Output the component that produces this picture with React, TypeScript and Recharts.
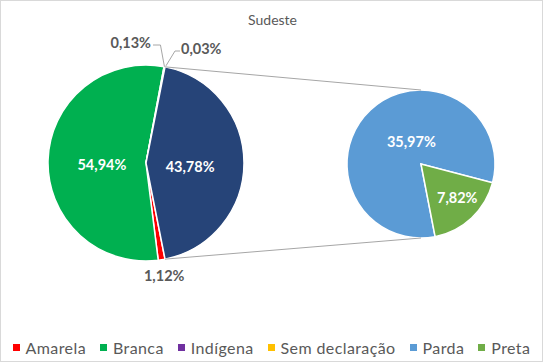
import React from 'react';
import { PieChart, Pie, Cell, Legend } from 'recharts';

const mainCategories = ['Amarela', 'Branca', 'Indígena', 'Sem declaração', 'Parda + Preta'];
const mainValues = [1.12, 54.94, 0.13, 0.03, 43.78];
const mainLabels = ['1,12%', '54,94%', '0,13%', '0,03%', '43,78%'];
const mainColors = ['#ff0000', '#00b050', '#7030a0', '#ffc000', '#264478'];

const subCategories = ['Parda', 'Preta'];
const subValues = [35.97, 7.82];
const subLabels = ['35,97%', '7,82%'];
const subColors = ['#5b9bd5', '#70ad47'];

const legendNames = ['Amarela', 'Branca', 'Indígena', 'Sem declaração', 'Parda', 'Preta'];
const legendColors = ['#ff0000', '#00b050', '#7030a0', '#ffc000', '#5b9bd5', '#70ad47'];

const mainData = mainCategories.map((name, i) => ({ name, value: mainValues[i], label: mainLabels[i] }));
const subData = subCategories.map((name, i) => ({ name, value: subValues[i], label: subLabels[i] }));

const W = 543;
const H = 362;
const FONT = 'Lato, "Open Sans", sans-serif';
const MAIN_CX = 146;
const MAIN_CY = 163;
const MAIN_R = 98;
const SUB_CX = 421;
const SUB_CY = 164;
const SUB_R = 74;
const RAD = Math.PI / 180;

const otherShare = mainValues[4] / mainValues.reduce((a, b) => a + b, 0);
const mainStart = -otherShare * 180;
const subStart = -79;

const pt = (cx: number, cy: number, r: number, a: number) => [cx + r * Math.cos(a * RAD), cy - r * Math.sin(a * RAD)];

const renderMainLabel = (props: any) => {
  const { cx, cy, midAngle, outerRadius, index, startAngle, endAngle } = props;
  const label = mainLabels[index];
  if (index === 1 || index === 4) {
    const [x, y] = pt(cx, cy, outerRadius * 0.45, midAngle);
    const text = (
      <text x={x} y={y + 3} fill="#ffffff" fontFamily={FONT} fontWeight={700} fontSize={14.5} textAnchor="middle" dominantBaseline="central">
        {label}
      </text>
    );
    if (index === 4) {
      const [x1, y1] = pt(cx, cy, outerRadius, startAngle);
      const [x2, y2] = pt(cx, cy, outerRadius, endAngle);
      return (
        <g>
          <line x1={x1} y1={y1} x2={SUB_CX} y2={SUB_CY - SUB_R} stroke="#a6a6a6" strokeWidth={1} />
          <line x1={x2} y1={y2} x2={SUB_CX} y2={SUB_CY + SUB_R} stroke="#a6a6a6" strokeWidth={1} />
          {text}
        </g>
      );
    }
    return text;
  }
  if (index === 0) {
    const [x, y] = pt(cx, cy, outerRadius + 16, midAngle);
    return (
      <text x={x} y={y} fill="#595959" fontFamily={FONT} fontWeight={700} fontSize={14.5} textAnchor="middle" dominantBaseline="central">
        {label}
      </text>
    );
  }
  const [px, py] = pt(cx, cy, outerRadius, midAngle);
  if (index === 2) {
    const tx = cx + 9;
    const ty = cy - 121;
    return (
      <g>
        <polyline points={`${px},${py} ${px - 4},${ty + 3} ${tx - 2},${ty + 3}`} fill="none" stroke="#a6a6a6" strokeWidth={1} />
        <text x={tx - 4} y={ty} fill="#595959" fontFamily={FONT} fontWeight={700} fontSize={14.5} textAnchor="end" dominantBaseline="central">
          {label}
        </text>
      </g>
    );
  }
  const tx = cx + 34;
  const ty = cy - 115;
  return (
    <g>
      <polyline points={`${px + 1},${py - 1} ${tx - 5},${ty + 3} ${tx},${ty + 3}`} fill="none" stroke="#a6a6a6" strokeWidth={1} />
      <text x={tx + 1} y={ty} fill="#595959" fontFamily={FONT} fontWeight={700} fontSize={14.5} textAnchor="start" dominantBaseline="central">
        {label}
      </text>
    </g>
  );
};

const subOffsets = [
  [-0.13, -0.3],
  [0.49, 0.45],
];

const renderSubLabel = (props: any) => {
  const { cx, cy, outerRadius, index } = props;
  const [fx, fy] = subOffsets[index];
  return (
    <text x={cx + fx * outerRadius} y={cy + fy * outerRadius} fill="#ffffff" fontFamily={FONT} fontWeight={700} fontSize={14.5} textAnchor="middle" dominantBaseline="central">
      {subLabels[index]}
    </text>
  );
};

const renderLegend = () => (
  <div style={{ display: 'flex', justifyContent: 'center', alignItems: 'center', fontFamily: FONT, fontSize: 16, letterSpacing: 0.4, color: '#595959', gap: 14 }}>
    {legendNames.map((n, i) => (
      <div key={n} style={{ display: 'flex', alignItems: 'center' }}>
        <span style={{ width: 7, height: 7, background: legendColors[i], display: 'inline-block', marginRight: 6 }} />
        <span>{n}</span>
      </div>
    ))}
  </div>
);

export default function App() {
  return (
    <div style={{ position: 'absolute', left: 0, top: 0, width: W, height: H, background: '#ffffff', boxSizing: 'border-box', border: '1px solid #d9d9d9' }}>
      <div style={{ position: 'absolute', left: 0, top: 10, width: W, textAlign: 'center', fontFamily: FONT, fontSize: 14, color: '#595959' }}>Sudeste</div>
      <div style={{ position: 'absolute', left: -1, top: -1 }}>
        <PieChart width={W} height={H} margin={{ top: 0, right: 0, bottom: 0, left: 0 }}>
          <Pie
            data={mainData}
            dataKey="value"
            nameKey="name"
            cx={MAIN_CX}
            cy={MAIN_CY}
            outerRadius={MAIN_R}
            startAngle={mainStart}
            endAngle={mainStart - 360}
            stroke="#ffffff"
            strokeWidth={1.5}
            label={renderMainLabel}
            labelLine={false}
            isAnimationActive={false}
          >
            {mainData.map((d, i) => (
              <Cell key={d.name} fill={mainColors[i]} />
            ))}
          </Pie>
          <Pie
            data={subData}
            dataKey="value"
            nameKey="name"
            cx={SUB_CX}
            cy={SUB_CY}
            outerRadius={SUB_R}
            startAngle={subStart}
            endAngle={subStart - 360}
            stroke="#ffffff"
            strokeWidth={1.5}
            label={renderSubLabel}
            labelLine={false}
            isAnimationActive={false}
          >
            {subData.map((d, i) => (
              <Cell key={d.name} fill={subColors[i]} />
            ))}
          </Pie>
          <Legend content={renderLegend} verticalAlign="bottom" wrapperStyle={{ bottom: 5 }} />
        </PieChart>
      </div>
    </div>
  );
}
